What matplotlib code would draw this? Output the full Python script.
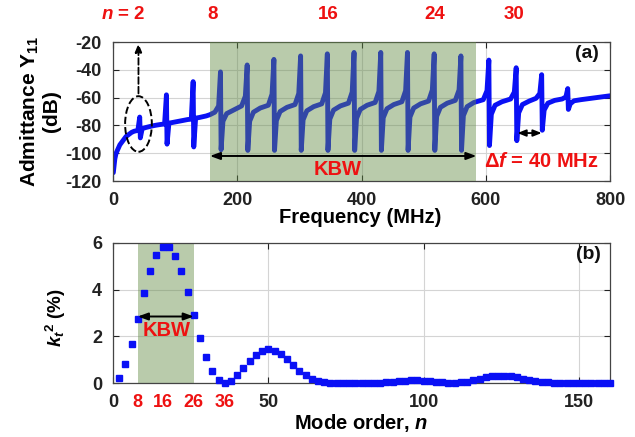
import numpy as np
import matplotlib
matplotlib.use("Agg")
import matplotlib.pyplot as plt
from matplotlib.patches import Ellipse

plt.rcParams['font.family'] = ['Liberation Sans', 'DejaVu Sans']
plt.rcParams['font.weight'] = 'bold'
plt.rcParams['axes.labelweight'] = 'bold'
plt.rcParams['axes.unicode_minus'] = False
plt.rcParams['mathtext.fontset'] = 'custom'
plt.rcParams['mathtext.rm'] = 'Liberation Sans:bold'
plt.rcParams['mathtext.it'] = 'Liberation Sans:bold:italic'
plt.rcParams['mathtext.bf'] = 'Liberation Sans:bold'

# ---------------- (a) admittance spectrum ----------------
# static (capacitive) background of Y11, away from the resonances
bg_mhz = [0.5, 3, 5, 11, 21, 30, 70, 112, 156, 770, 785, 800]
bg_db = [-114, -104, -100, -94, -88, -85, -79.8, -76.5, -72.3, -60.5, -59.6, -58.7]

# resonances of the overtone modes n = 2 ... 34
res_n = [2, 4, 6, 8, 10, 12, 14, 16, 18, 20, 22, 24, 26, 28, 30, 32, 34]
res_mhz = [43, 86, 129, 173, 216, 259, 302, 345, 388, 431, 474, 517, 560, 605, 649, 690, 732]
peak_db = [-74, -58, -48.5, -41.5, -36.5, -32.5, -30, -28.5, -27.5, -27.5, -27.5,
           -28.5, -30, -33, -38.5, -43.5, -53.5]
dip_db = [-89, -93.5, -95.5, -97.5, -98, -98, -98, -98, -98, -98, -98, -98, -98,
          -94.5, -91, -83.5, -68.5]
# curve level on the rising flank before each resonance
pre_db = [-84.2, -79.3, -75.8, -70.5, -66, -65.5, -65, -64.5, -64, -63.5, -63,
          -62.5, -62, -61.5, -61, -60.5, -61]
knee_db = [-83.6, -79, -75.5, -66, -59, -57.5, -57, -56.5, -56, -55.5, -55,
           -54.5, -54.5, -55, -56, -57, -59.5]
# curve level while recovering after each anti-resonance
rec1_db = [-82.3, -78.4, -74.8, -77, -77, -76.5, -76, -75.5, -75, -74.5, -74,
           -73.5, -73, -72, -71, -69, -64.5]
rec2_db = [-81.5, -77.9, -74.3, -71.5, -70.5, -70, -69.5, -69, -68.5, -68, -67.5,
           -67, -66.5, -65.5, -65, -64, -62.3]
mid_db = [-80.3, -77, -73.2, -69, -67.5, -67, -66.5, -66, -65.5, -65, -64.5,
          -64, -63.5, -63, -62.5, -62, -61.5]

kbw_mhz = (156, 585)

# ---------------- (b) coupling coefficient per mode ----------------
mode_n = list(range(2, 161, 2))
kt2_pct = [0.23, 0.80, 1.69, 2.75, 3.86, 4.81, 5.48, 5.83, 5.81, 5.44,
           4.79, 3.90, 2.91, 1.95, 1.12, 0.50, 0.14, 0.00, 0.09, 0.33,
           0.65, 0.96, 1.22, 1.39, 1.45, 1.39, 1.23, 1.02, 0.77, 0.52,
           0.33, 0.17, 0.07, 0.03, 0.02, 0.02, 0.02, 0.02, 0.02, 0.02,
           0.02, 0.02, 0.02, 0.04, 0.06, 0.08, 0.10, 0.11, 0.11, 0.10,
           0.08, 0.05, 0.03, 0.01, 0.01, 0.03, 0.06, 0.11, 0.17, 0.24,
           0.29, 0.32, 0.32, 0.30, 0.25, 0.19, 0.13, 0.08, 0.05, 0.03,
           0.02, 0.02, 0.02, 0.02, 0.02, 0.02, 0.02, 0.02, 0.02, 0.02]
kbw_modes = (8, 26)
red_ticks = [8, 16, 26, 36]

RED = '#ee1111'
BLUE = '#0a10f5'
SHADE = (100 / 255, 140 / 255, 70 / 255)

# assemble the admittance trace vertex by vertex
pts = list(zip(bg_mhz, bg_db))
for f, pk, dp, p0, p1, r1, r2, m in zip(res_mhz, peak_db, dip_db, pre_db, knee_db,
                                        rec1_db, rec2_db, mid_db):
    pts += [(f - 9, p0), (f - 3, p1), (f, pk), (f + 1, dp),
            (f + 4, r1), (f + 10, r2), (f + 21, m)]
pts.sort(key=lambda p: p[0])
curve_f = [p[0] for p in pts]
curve_db = [p[1] for p in pts]

fig = plt.figure(figsize=(6.35, 4.37), dpi=100)
ax1 = fig.add_axes([113 / 635, 1 - 181 / 437, 497 / 635, 139 / 437])
ax2 = fig.add_axes([113 / 635, 1 - 383 / 437, 497 / 635, 140 / 437])

for ax in (ax1, ax2):
    ax.set_axisbelow(True)
    ax.grid(True, which='major', color='#d4d4d4', lw=0.8)
    ax.tick_params(which='major', direction='in', top=True, right=True, length=4,
                   width=0.8, labelsize=13, pad=8, colors='#222222')
    for s in ax.spines.values():
        s.set_color('#444444')
        s.set_linewidth(0.9)

# --- panel (a)
ax1.plot(curve_f, curve_db, color=BLUE, lw=3.5, solid_joinstyle='round',
         solid_capstyle='round', zorder=2)
ax1.axvspan(*kbw_mhz, color=SHADE, alpha=0.45, lw=0, zorder=3)
ax1.set_xlim(0, 800)
ax1.set_ylim(-120, -20)
ax1.set_xticks([0, 200, 400, 600, 800])
ax1.set_yticks([-120, -100, -80, -60, -40, -20])
ax1.set_ylabel('Admittance Y$_{11}$\n(dB)', fontsize=15, linespacing=1.05)
ax1.yaxis.set_label_coords(-0.105, 0.5)
ax1.set_xlabel('Frequency (MHz)', fontsize=14.5)
ax1.xaxis.set_label_coords(0.497, -0.195)

ax1.add_patch(Ellipse((41, -79), width=43, height=40, fill=False, ls='--',
                      lw=1.4, color='black', zorder=5))
ax1.annotate('', xy=(41, -19), xytext=(41, -59),
             arrowprops=dict(arrowstyle='-|>,head_length=0.5,head_width=0.2',
                             ls='--', lw=1.3, color='black'),
             annotation_clip=False, zorder=5)
ax1.annotate('', xy=(kbw_mhz[0], -102), xytext=(kbw_mhz[1], -102),
             arrowprops=dict(arrowstyle='<|-|>,head_length=0.6,head_width=0.22',
                             lw=1.4, color='black', shrinkA=0, shrinkB=0), zorder=5)
ax1.text(361, -112, 'KBW', color=RED, fontsize=14.5, ha='center', va='center', zorder=6)
ax1.annotate('', xy=(res_mhz[14] + 2, -85.5), xytext=(res_mhz[15], -85.5),
             arrowprops=dict(arrowstyle='<|-|>,head_length=0.5,head_width=0.2',
                             lw=1.3, color='black', shrinkA=0, shrinkB=0), zorder=5)
ax1.text(689, -106, 'Δ$\\mathit{f}$ = 40 MHz', color=RED, fontsize=14.5,
         ha='center', va='center', zorder=6)
ax1.text(763, -28, '(a)', fontsize=14, ha='center', va='center', color='#111111')

ax1.text(52, 1.195, '$\\mathit{n}$ = 2', color=RED, fontsize=13.5, ha='right',
         va='center', transform=ax1.get_xaxis_transform())
for lab, xpos in [('8', 161), ('16', 346), ('24', 518), ('30', 645)]:
    ax1.text(xpos, 1.195, lab, color=RED, fontsize=13.5, ha='center', va='center',
             transform=ax1.get_xaxis_transform())

# --- panel (b)
ax2.axvspan(*kbw_modes, color=SHADE, alpha=0.45, lw=0, zorder=1)
ax2.plot(mode_n, kt2_pct, ls='none', marker='s', ms=4.2, color=BLUE, mec=BLUE,
         clip_on=False, zorder=3)
ax2.set_xlim(0, 160)
ax2.set_ylim(0, 6)
ax2.set_xticks([0, 50, 100, 150])
ax2.set_yticks([0, 2, 4, 6])
ax2.set_xticks(red_ticks, minor=True)
ax2.set_xticklabels([str(v) for v in red_ticks], minor=True)
ax2.tick_params(which='minor', length=0, labelsize=13, pad=8, labelcolor=RED)
ax2.set_ylabel('$\\mathit{k_t}^{\\mathrm{2}}$ (%)', fontsize=13.5)
ax2.yaxis.set_label_coords(-0.09, 0.47)
ax2.set_xlabel('Mode order, $\\mathit{n}$', fontsize=14.5)
ax2.xaxis.set_label_coords(0.5, -0.21)
ax2.annotate('', xy=(kbw_modes[0], 2.85), xytext=(kbw_modes[1], 2.85),
             arrowprops=dict(arrowstyle='<|-|>,head_length=0.6,head_width=0.22',
                             lw=1.4, color='black', shrinkA=0, shrinkB=0), zorder=5)
ax2.text(17.4, 2.24, 'KBW', color=RED, fontsize=14.5, ha='center', va='center', zorder=6)
ax2.text(153, 5.49, '(b)', fontsize=14, ha='center', va='center', color='#111111')

for ax in (ax1, ax2):
    for lab in ax.get_xticklabels(which='both') + ax.get_yticklabels():
        lab.set_fontweight('bold')

fig.savefig('out.png', dpi=100)
